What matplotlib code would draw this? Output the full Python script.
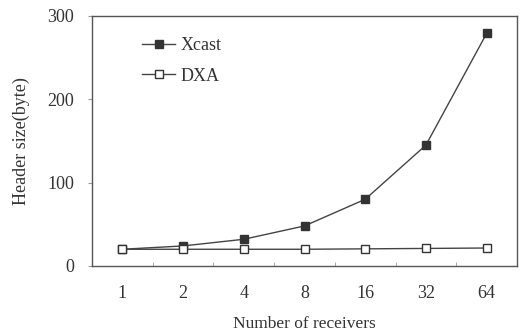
import matplotlib.pyplot as plt
import numpy as np

receivers = ['1', '2', '4', '8', '16', '32', '64']
xcast = [20, 24, 32, 48, 80, 145, 279]
dxa = [20, 20, 20, 20, 20.5, 21, 21.5]

plt.rcParams['font.family'] = ['Liberation Serif', 'DejaVu Serif']
gray = '#333333'

fig = plt.figure(figsize=(5.23, 3.32), dpi=100)
ax = fig.add_axes([0.176, 0.199, 0.8125, 0.753])

x = np.arange(len(receivers))
ax.plot(x, xcast, color='#444444', lw=1, marker='s', ms=6, mfc='#333333', mec='#333333', label='Xcast')
ax.plot(x, dxa, color='#444444', lw=1, marker='s', ms=6, mfc='white', mec='#333333', mew=1, label='DXA')

ax.set_xlim(-0.5, 6.5)
ax.set_ylim(0, 300)
ax.set_xticks(x)
ax.set_xticklabels(receivers)
ax.set_xticks(np.arange(-0.5, 7, 1), minor=True)
ax.tick_params(axis='x', which='major', length=0, pad=14, labelsize=13, colors=gray)
ax.tick_params(axis='x', which='minor', length=3, direction='in', color='#999999')
ax.set_yticks([0, 100, 200, 300])
ax.tick_params(axis='y', length=3, direction='out', pad=10, labelsize=13, colors=gray, color='#999999')

for s in ax.spines.values():
    s.set_color('#555555')
    s.set_linewidth(1)

ax.set_xlabel('Number of receivers', fontsize=12.5, color=gray, labelpad=10)
ax.set_ylabel('Header size(byte)', fontsize=13, color=gray, labelpad=12)

ax.legend(loc='upper left', bbox_to_anchor=(0.08, 0.98), frameon=False, fontsize=13,
          handlelength=1.8, labelspacing=0.75, handletextpad=0.3, labelcolor=gray)

fig.savefig('out.png', dpi=100)
